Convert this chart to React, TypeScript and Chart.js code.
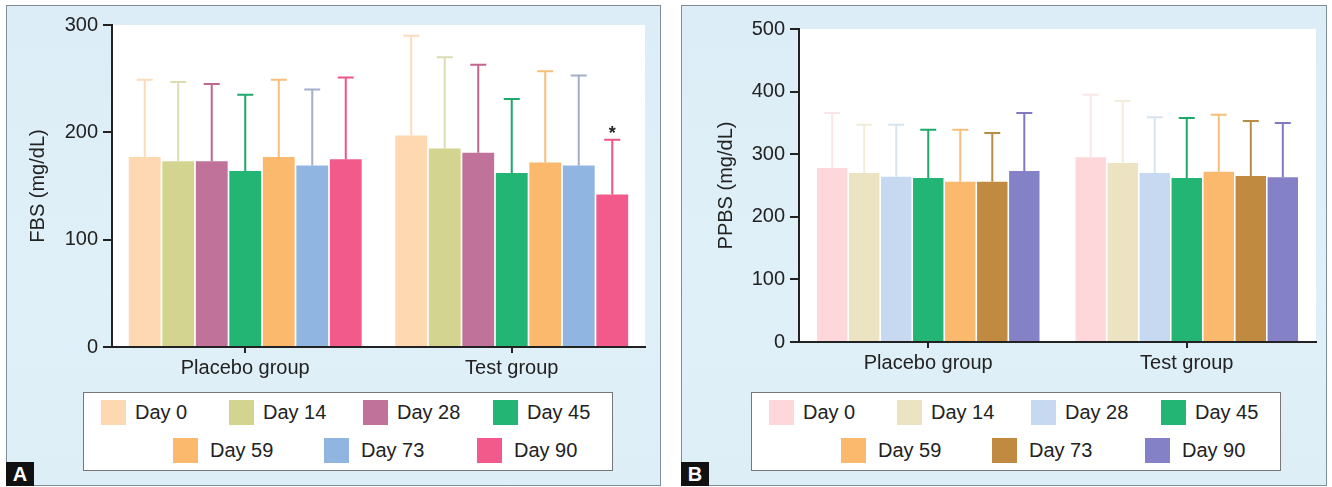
import React, { useEffect, useRef } from 'react';
import { Chart, registerables } from 'chart.js';

Chart.register(...registerables);

const FONT = '"Liberation Sans", Arial, Helvetica, sans-serif';

// ---- data ----
const groups = ['Placebo group', 'Test group'];
const days = ['Day 0', 'Day 14', 'Day 28', 'Day 45', 'Day 59', 'Day 73', 'Day 90'];

// Panel A: FBS (mg/dL)
const fbsPlaceboMean = [177, 173, 173, 164, 177, 169, 175];
const fbsTestMean = [197, 185, 181, 162, 172, 169, 142];
const fbsPlaceboUpper = [249, 247, 245, 235, 249, 240, 251];
const fbsTestUpper = [290, 270, 263, 231, 257, 253, 193];
const fbsTestMarks = ['', '', '', '', '', '', '*'];
const fbsPlaceboMarks = ['', '', '', '', '', '', ''];
const fbsTicks = [0, 100, 200, 300];

// Panel B: PPBS (mg/dL)
const ppbsPlaceboMean = [278, 270, 264, 262, 256, 256, 273];
const ppbsTestMean = [295, 286, 270, 262, 272, 265, 263];
const ppbsPlaceboUpper = [366, 347, 347, 339, 339, 334, 366];
const ppbsTestUpper = [395, 385, 359, 358, 363, 353, 350];
const ppbsTicks = [0, 100, 200, 300, 400, 500];

// ---- styles ----
const fbsColors = ['#fdd8b1', '#d3d48f', '#c0729b', '#22b574', '#fbb96d', '#8fb5e0', '#f15a8b'];
const fbsErrColors = ['#fcdcbb', '#dcdcb4', '#c0668f', '#1ea96b', '#f8bd7a', '#a4aecb', '#ee5585'];
const ppbsColors = ['#fdd7d9', '#ece3c3', '#c6d9f1', '#22b574', '#fbb96d', '#c08b41', '#8581c7'];
const ppbsErrColors = ['#fae6e7', '#f2ecdb', '#d8e3f0', '#1ea96b', '#f7bd7a', '#b78d45', '#7f79c2'];

const legendRow1 = [17, 145, 279, 409];
const legendRow2 = [89, 240, 393];

const panelPlugin = {
  id: 'panelDecor',
  beforeDraw(chart: any) {
    const { ctx, chartArea: a } = chart;
    ctx.save();
    ctx.fillStyle = '#ffffff';
    ctx.fillRect(a.left, a.top, a.right - a.left, a.bottom - a.top);
    ctx.restore();
  },
  afterDatasetsDraw(chart: any) {
    const ctx = chart.ctx;
    const y = chart.scales.y;
    chart.data.datasets.forEach((ds: any, i: number) => {
      const meta = chart.getDatasetMeta(i);
      meta.data.forEach((bar: any, j: number) => {
        const top = y.getPixelForValue(ds.errorTop[j]);
        ctx.save();
        ctx.strokeStyle = ds.errorColor;
        ctx.lineWidth = 2;
        ctx.beginPath();
        ctx.moveTo(bar.x, bar.y);
        ctx.lineTo(bar.x, top);
        ctx.moveTo(bar.x - 8, top);
        ctx.lineTo(bar.x + 8, top);
        ctx.stroke();
        const mark = ds.marks ? ds.marks[j] : '';
        if (mark) {
          ctx.fillStyle = '#222';
          ctx.font = `bold 18px ${FONT}`;
          ctx.textAlign = 'center';
          ctx.textBaseline = 'alphabetic';
          ctx.fillText(mark, bar.x, top - 1);
        }
        ctx.restore();
      });
    });
  },
};

type PanelProps = {
  left: number;
  width: number;
  letter: string;
  title: string;
  ticks: number[];
  placeboMean: number[];
  testMean: number[];
  placeboUpper: number[];
  testUpper: number[];
  placeboMarks?: string[];
  testMarks?: string[];
  colors: string[];
  errColors: string[];
  yWidth: number;
  titlePad: number;
  pad: { top: number; right: number; bottom: number };
  catPct: number;
  legendLeft: number;
};

function BarPanel(p: PanelProps) {
  const ref = useRef<HTMLCanvasElement | null>(null);
  const innerW = p.width - 2;
  const innerH = 479;

  useEffect(() => {
    if (!ref.current) return;
    const datasets = days.map((d, i) => ({
      label: d,
      data: [p.placeboMean[i], p.testMean[i]],
      backgroundColor: p.colors[i],
      borderWidth: 0,
      errorTop: [p.placeboUpper[i], p.testUpper[i]],
      errorColor: p.errColors[i],
      marks: [p.placeboMarks ? p.placeboMarks[i] : '', p.testMarks ? p.testMarks[i] : ''],
    }));
    const tickVals = p.ticks;
    const chart = new Chart(ref.current, {
      type: 'bar',
      data: { labels: groups, datasets: datasets as any },
      options: {
        animation: false,
        responsive: false,
        events: [],
        layout: { padding: { left: 0, top: p.pad.top, right: p.pad.right, bottom: p.pad.bottom } },
        plugins: { legend: { display: false }, tooltip: { enabled: false } },
        datasets: { bar: { categoryPercentage: p.catPct, barPercentage: 0.95 } },
        scales: {
          x: {
            offset: true,
            ticks: { color: '#222', font: { size: 20, family: FONT }, padding: 3 },
            grid: { display: true, drawOnChartArea: false, drawTicks: true, tickLength: 6, offset: false, color: '#222', lineWidth: 2 },
            border: { display: true, color: '#222', width: 2 },
            afterFit: (s: any) => { s.height = 40; },
          },
          y: {
            min: tickVals[0],
            max: tickVals[tickVals.length - 1],
            afterBuildTicks: (s: any) => { s.ticks = tickVals.map((v) => ({ value: v })); },
            ticks: { color: '#222', font: { size: 20, family: FONT }, padding: 5 },
            grid: { display: true, drawOnChartArea: false, drawTicks: true, tickLength: 9, color: '#222', lineWidth: 2 },
            border: { display: true, color: '#222', width: 2 },
            title: { display: true, text: p.title, color: '#222', font: { size: 20, family: FONT }, padding: { top: p.titlePad, bottom: 0 } },
            afterFit: (s: any) => { s.width = p.yWidth; },
          },
        },
      } as any,
      plugins: [panelPlugin],
    });
    return () => chart.destroy();
  }, []);

  const item = (i: number, x: number, top: number, textOff: number) => (
    <React.Fragment key={days[i]}>
      <div style={{ position: 'absolute', left: x, top, width: 25, height: 25, background: p.colors[i] }} />
      <div style={{ position: 'absolute', left: x + textOff, top: top - 1, height: 27, lineHeight: '27px', fontSize: 20, color: '#222', whiteSpace: 'nowrap' }}>{days[i]}</div>
    </React.Fragment>
  );

  return (
    <div style={{ position: 'absolute', left: p.left, top: 5, width: innerW, height: innerH, border: '1px solid #7f8e9b', background: 'linear-gradient(180deg, #dcedf7 0%, #e0f0f8 60%, #deeef7 100%)' }}>
      <canvas ref={ref} width={innerW} height={innerH} style={{ position: 'absolute', left: 0, top: 0, width: innerW, height: innerH }} />
      <div style={{ position: 'absolute', left: p.legendLeft, top: 386, width: 528, height: 77, border: '1px solid #777', background: '#fff', fontFamily: FONT }}>
        {legendRow1.map((x, k) => item(k, x, 7, 34))}
        {legendRow2.map((x, k) => item(k + 4, x, 45, 37))}
      </div>
      <div style={{ position: 'absolute', left: -1, bottom: -1, width: 28, height: 24, background: '#111', color: '#fff', fontFamily: FONT, fontWeight: 'bold', fontSize: 20, lineHeight: '25px', textAlign: 'center' }}>{p.letter}</div>
    </div>
  );
}

export default function App() {
  return (
    <div style={{ position: 'absolute', left: 0, top: 0, width: 1332, height: 487, background: '#ffffff', overflow: 'hidden', fontFamily: FONT }}>
      <BarPanel
        left={6}
        width={655}
        letter="A"
        title="FBS (mg/dL)"
        ticks={fbsTicks}
        placeboMean={fbsPlaceboMean}
        testMean={fbsTestMean}
        placeboUpper={fbsPlaceboUpper}
        testUpper={fbsTestUpper}
        placeboMarks={fbsPlaceboMarks}
        testMarks={fbsTestMarks}
        colors={fbsColors}
        errColors={fbsErrColors}
        yWidth={105}
        titlePad={19}
        pad={{ top: 19, right: 15, bottom: 98 }}
        catPct={0.88}
        legendLeft={76}
      />
      <BarPanel
        left={681}
        width={646}
        letter="B"
        title="PPBS (mg/dL)"
        ticks={ppbsTicks}
        placeboMean={ppbsPlaceboMean}
        testMean={ppbsTestMean}
        placeboUpper={ppbsPlaceboUpper}
        testUpper={ppbsTestUpper}
        colors={ppbsColors}
        errColors={ppbsErrColors}
        yWidth={117}
        titlePad={32}
        pad={{ top: 23, right: 10, bottom: 103 }}
        catPct={0.867}
        legendLeft={69}
      />
    </div>
  );
}
